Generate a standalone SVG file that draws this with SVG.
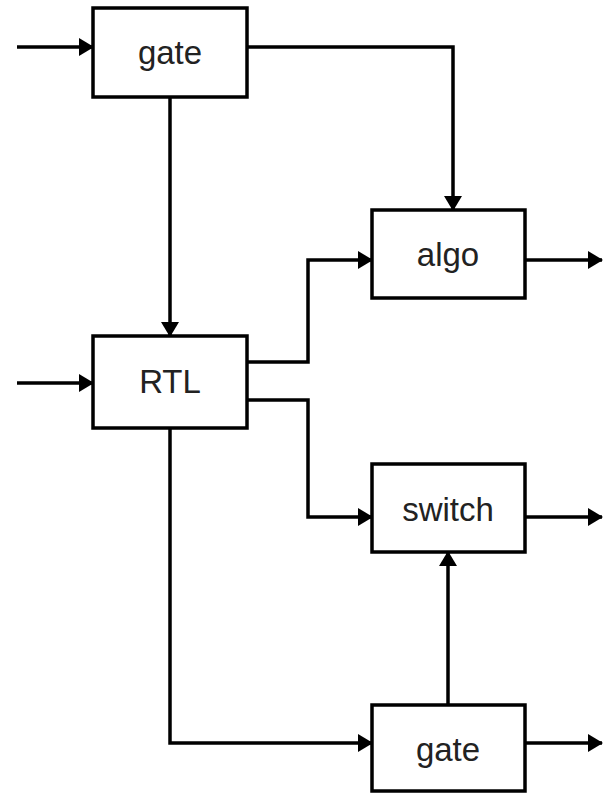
<svg xmlns="http://www.w3.org/2000/svg" width="603" height="793" viewBox="0 0 603 793">
<style>
.box{fill:#fff;stroke:#000;stroke-width:3.5}
.lbl{font-family:"Liberation Sans",Arial,sans-serif;font-size:33px;fill:#222;text-anchor:middle}
.wire{fill:none;stroke:#000;stroke-width:3.5;marker-end:url(#ah)}
</style>
<defs>
<marker id="ah" markerUnits="userSpaceOnUse" markerWidth="16" markerHeight="18" refX="14" refY="9" orient="auto">
<path d="M0,0 L15,9 L0,18 Z" fill="#000"/>
</marker>
</defs>
<rect width="603" height="793" fill="#fff"/>
<g id="connectors">
<path class="wire" d="M17,47 H93"/>
<path class="wire" d="M170,97 V336"/>
<path class="wire" d="M247,47 H453 V210"/>
<path class="wire" d="M17,383 H93"/>
<path class="wire" d="M247,362 H308 V260 H372"/>
<path class="wire" d="M247,400 H308 V517 H372"/>
<path class="wire" d="M170,428 V743 H372"/>
<path class="wire" d="M448,705 V552"/>
<path class="wire" d="M525,260 H602"/>
<path class="wire" d="M525,517 H602"/>
<path class="wire" d="M525,743 H602"/>
</g>
<g id="gate1"><rect class="box" x="93" y="8" width="154" height="89"/><text class="lbl" x="170" y="64">gate</text></g>
<g id="rtl"><rect class="box" x="93" y="336" width="154" height="92"/><text class="lbl" x="170" y="393">RTL</text></g>
<g id="algo"><rect class="box" x="372" y="210" width="153" height="88"/><text class="lbl" x="448" y="266">algo</text></g>
<g id="switch"><rect class="box" x="372" y="464" width="153" height="88"/><text class="lbl" x="448" y="521">switch</text></g>
<g id="gate2"><rect class="box" x="372" y="705" width="153" height="86"/><text class="lbl" x="448" y="761">gate</text></g>
</svg>
